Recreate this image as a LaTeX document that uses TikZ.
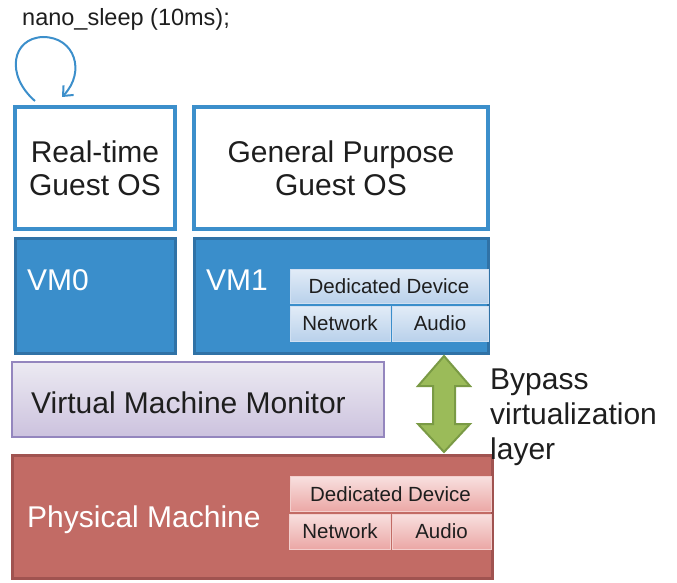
\documentclass[tikz,border=0pt]{standalone}
\usepackage{fontspec}
\setmainfont{Liberation Sans}
\usetikzlibrary{arrows.meta}
\definecolor{osblue}{HTML}{3C8FCB}
\definecolor{vmfill}{HTML}{3A8ECB}
\definecolor{vmborder}{HTML}{3072A6}
\definecolor{devtop}{HTML}{E2ECF7}
\definecolor{devbot}{HTML}{B9D1EB}
\definecolor{devline}{HTML}{D0E0F2}
\definecolor{vmmtop}{HTML}{ECEAF2}
\definecolor{vmmbot}{HTML}{CCC2DE}
\definecolor{vmmborder}{HTML}{9486BE}
\definecolor{pmfill}{HTML}{C26B65}
\definecolor{pmborder}{HTML}{A05350}
\definecolor{pdtop}{HTML}{F8E0DF}
\definecolor{pdbot}{HTML}{EBA7A5}
\definecolor{pdline}{HTML}{F3CFCD}
\definecolor{grfill}{HTML}{9BBB59}
\definecolor{grborder}{HTML}{7A9A45}
\definecolor{txt}{HTML}{1E1E1E}
\tikzset{
  big/.style={font=\fontsize{30}{33}\selectfont},
  osbox/.style={draw=osblue, line width=4pt, fill=white, inner sep=0pt, text=txt, align=center, big},
  vmbox/.style={draw=vmborder, line width=3pt, fill=vmfill, inner sep=0pt},
  devbox/.style={draw=devline, line width=1pt, top color=devtop, bottom color=devbot, inner sep=0pt, text=txt, font=\fontsize{20.5}{22}\selectfont},
  pdevbox/.style={draw=pdline, line width=1pt, top color=pdtop, bottom color=pdbot, inner sep=0pt, text=txt, font=\fontsize{20.5}{22}\selectfont},
  lbl/.style={anchor=west, inner sep=0pt, big},
}
\begin{document}
\begin{tikzpicture}[x=1pt,y=-1pt]
\useasboundingbox (0,0) rectangle (677,583);
% guest OS boxes
\node[osbox, minimum width=160pt, minimum height=122pt] (rt) at (95,168) {Real-time\\Guest OS};
\node[osbox, minimum width=294pt, minimum height=122pt] (gp) at (341,168) {General Purpose\\Guest OS};
% VMs
\node[vmbox, minimum width=160pt, minimum height=115pt] (vm0) at (95,295.5) {};
\node[vmbox, minimum width=294pt, minimum height=115pt] (vm1) at (341,295.5) {};
\node[lbl, text=white] (vm0t) at (27,280) {VM0};
\node[lbl, text=white] (vm1t) at (206,280) {VM1};
\node[devbox, minimum width=198pt, minimum height=34pt] (dd1) at (389,286) {Dedicated Device};
\node[devbox, minimum width=100pt, minimum height=35pt] (nw1) at (340,323.5) {Network};
\node[devbox, minimum width=96pt, minimum height=35pt] (au1) at (440,323.5) {Audio};
% VMM
\node[draw=vmmborder, line width=2pt, top color=vmmtop, bottom color=vmmbot, minimum width=372pt, minimum height=75pt, inner sep=0pt] (vmm) at (198,399.5) {};
\node[lbl, text=txt] (vmmt) at (31,403) {Virtual Machine Monitor};
% Physical machine
\node[draw=pmborder, line width=3pt, fill=pmfill, minimum width=480pt, minimum height=123pt, inner sep=0pt] (pm) at (252,516.5) {};
\node[lbl, text=white] (pmt) at (27,520) {Physical Machine};
\node[pdevbox, minimum width=201pt, minimum height=35pt] (dd2) at (390.5,494) {Dedicated Device};
\node[pdevbox, minimum width=101pt, minimum height=35pt] (nw2) at (340,531.5) {Network};
\node[pdevbox, minimum width=99pt, minimum height=35pt] (au2) at (441.5,531.5) {Audio};
% bypass arrow
\draw[grborder, line width=2pt, fill=grfill, line join=miter]
  (444,356) -- (470,386) -- (455,386) -- (455,424) -- (470,424) -- (444,452)
  -- (418,424) -- (433,424) -- (433,386) -- (418,386) -- cycle;
\node[anchor=north west, inner sep=0pt, align=left, text=txt, font=\fontsize{30}{35}\selectfont] (byp) at (490,369) {Bypass\\virtualization\\layer};
% nano sleep
\node[anchor=west, inner sep=0pt, text=txt, font=\fontsize{23.5}{25}\selectfont] (ns) at (22,19) {nano\_sleep (10ms);};
\coordinate (ls) at (35,101);
\coordinate (le) at (62,97);
\draw[osblue, line width=2pt, -{Straight Barb[length=8pt,width=14pt]}]
  (ls) .. controls (5,75) and (12,38) .. (43,37) .. controls (75,37) and (86,72) .. (le);
\end{tikzpicture}
\end{document}
